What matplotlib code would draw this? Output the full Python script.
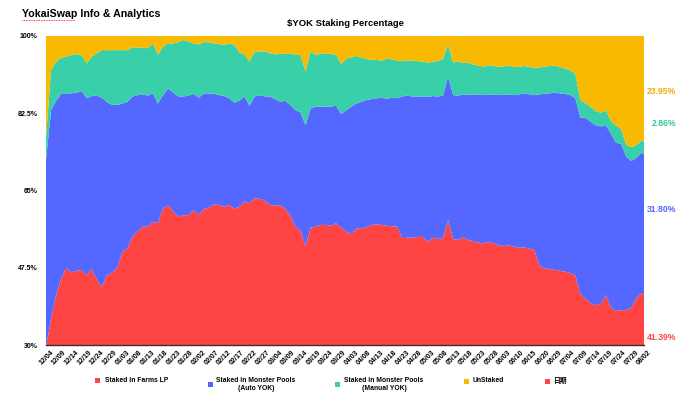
import matplotlib.pyplot as plt
from matplotlib.patches import Rectangle
from matplotlib.lines import Line2D
from matplotlib.transforms import ScaledTranslation

plt.rcParams['font.family'] = ['Liberation Sans', 'Noto Sans CJK SC', 'DejaVu Sans']

# x axis: one category per data row, label on every 5th row
tick_labels = ['12/04', '12/09', '12/14', '12/19', '12/24', '12/29', '01/03', '01/08',
               '01/13', '01/18', '01/23', '01/28', '02/02', '02/07', '02/12', '02/17',
               '02/22', '02/27', '03/04', '03/09', '03/14', '03/19', '03/24', '03/29',
               '04/03', '04/08', '04/13', '04/18', '04/23', '04/28', '05/03', '05/08',
               '05/13', '05/18', '05/23', '05/28', '06/03', '06/10', '06/15', '06/20',
               '06/29', '07/04', '07/09', '07/14', '07/19', '07/24', '07/29', '08/02']
n_rows = 236
day_idx = list(range(0, n_rows, 2)) + [n_rows - 1]

# % of supply (every second row)
farms = [29.5, 36.0, 41.3, 45.1, 47.5, 46.4, 46.8, 47.0, 45.8, 47.2,
         44.7, 43.2, 45.8, 46.4, 47.5, 51.1, 51.9, 54.5, 55.7, 56.8,
         56.8, 57.9, 57.6, 61.0, 61.6, 60.2, 59.1, 59.4, 59.4, 60.6,
         59.4, 60.8, 61.1, 61.9, 61.7, 61.3, 61.7, 60.9, 61.3, 62.5,
         62.1, 63.2, 63.1, 62.7, 61.7, 61.6, 61.7, 60.8, 59.4, 56.8,
         56.0, 52.3, 56.6, 56.8, 57.2, 57.2, 57.0, 57.6, 56.6, 55.7,
         55.1, 56.4, 56.3, 56.8, 57.2, 57.3, 57.2, 57.0, 56.9, 56.8,
         54.2, 54.3, 54.3, 54.5, 54.5, 53.4, 54.3, 54.0, 54.2, 58.3,
         54.0, 53.8, 54.4, 53.8, 53.5, 53.2, 53.0, 53.4, 53.0, 52.6,
         52.4, 52.6, 52.3, 52.0, 52.1, 51.8, 51.5, 47.8, 47.4, 47.2,
         47.0, 46.8, 46.6, 46.3, 45.8, 41.5, 40.5, 39.5, 39.0, 39.3,
         41.3, 38.5, 37.7, 37.9, 37.9, 38.4, 40.6, 41.7, 41.39]
auto_yok = [42.5, 47.2, 44.0, 41.9, 39.5, 40.6, 40.4, 40.5, 40.1, 39.2,
            41.8, 42.8, 39.2, 38.0, 36.9, 33.6, 33.2, 31.8, 30.9, 30.0,
            29.7, 29.1, 27.1, 25.6, 26.5, 27.0, 27.2, 26.9, 27.1, 26.3,
            26.6, 26.2, 25.9, 25.0, 24.9, 25.1, 24.2, 24.0, 24.0, 23.8,
            22.1, 23.1, 23.5, 23.6, 24.6, 24.1, 23.4, 24.5, 25.0, 26.4,
            26.7, 27.5, 27.0, 27.2, 26.8, 26.8, 27.0, 26.6, 25.7, 27.5,
            28.9, 28.3, 28.8, 28.7, 28.5, 28.6, 28.8, 28.8, 29.1, 29.1,
            32.1, 32.2, 32.0, 31.8, 31.8, 32.8, 32.1, 32.3, 32.3, 32.5,
            32.6, 32.7, 32.4, 32.8, 33.3, 33.5, 33.6, 33.4, 33.7, 34.0,
            34.4, 34.1, 34.3, 34.8, 34.8, 35.0, 35.1, 39.0, 39.5, 39.8,
            40.2, 40.2, 40.3, 40.3, 40.2, 40.0, 41.0, 41.1, 40.8, 40.2,
            38.5, 39.4, 38.1, 37.7, 34.8, 33.3, 31.8, 31.9, 31.80]
manual_yok = [5.0, 9.1, 8.9, 8.1, 8.3, 8.7, 8.7, 8.2, 7.9, 8.9,
              9.6, 10.8, 11.8, 12.4, 12.4, 12.1, 11.7, 11.1, 10.8, 10.6,
              10.7, 11.3, 11.1, 11.0, 10.2, 11.1, 12.3, 12.8, 12.2, 11.4,
              12.1, 11.6, 11.6, 11.4, 11.6, 11.6, 12.4, 13.1, 11.0, 9.5,
              10.0, 10.2, 9.9, 10.2, 9.8, 10.1, 11.0, 10.6, 11.7, 12.5,
              13.0, 12.1, 12.9, 11.7, 12.0, 12.1, 11.9, 11.6, 11.3, 11.7,
              11.1, 10.8, 10.0, 9.3, 8.9, 8.7, 8.4, 9.1, 8.7, 8.5,
              8.0, 8.0, 8.1, 8.0, 7.9, 7.7, 7.8, 8.0, 8.2, 7.3,
              7.4, 7.7, 7.1, 7.4, 6.7, 6.6, 6.4, 6.6, 6.5, 6.4,
              6.3, 6.6, 6.4, 6.2, 6.3, 6.2, 6.2, 6.1, 6.1, 6.2,
              6.1, 6.0, 5.7, 5.6, 5.5, 4.0, 3.3, 3.4, 3.2, 3.1,
              3.4, 2.9, 3.9, 3.4, 2.6, 3.1, 2.9, 2.7, 2.86]
unstaked = [23.0, 7.7, 5.8, 4.9, 4.7, 4.3, 4.1, 4.3, 6.2, 4.7,
            3.9, 3.2, 3.2, 3.2, 3.2, 3.2, 3.2, 2.6, 2.6, 2.6,
            2.8, 1.7, 4.2, 2.4, 1.7, 1.7, 1.4, 0.9, 1.3, 1.7,
            1.9, 1.4, 1.4, 1.7, 1.8, 2.0, 1.7, 2.0, 3.7, 4.2,
            5.8, 3.5, 3.5, 3.5, 3.9, 4.2, 3.9, 4.1, 3.9, 4.3,
            4.3, 8.1, 3.5, 4.3, 4.0, 3.9, 4.1, 4.2, 6.4, 5.1,
            4.9, 4.5, 4.9, 5.2, 5.4, 5.4, 5.6, 5.1, 5.3, 5.6,
            5.7, 5.5, 5.6, 5.7, 5.8, 6.1, 5.8, 5.7, 5.3, 1.9,
            6.0, 5.8, 6.1, 6.0, 6.5, 6.7, 7.0, 6.6, 6.8, 7.0,
            6.9, 6.7, 7.0, 7.0, 6.8, 7.0, 7.2, 7.1, 7.0, 6.8,
            6.7, 7.0, 7.4, 7.8, 8.5, 14.5, 15.2, 16.0, 17.0, 17.4,
            16.8, 19.2, 20.3, 21.0, 24.7, 25.2, 24.7, 23.7, 23.95]

series_names = ['Staked in Farms LP', 'Staked in Monster Pools\n(Auto YOK)',
                'Staked in Monster Pools\n(Manual YOK)', 'UnStaked', '日期']
colors = ['#FF4444', '#5468FF', '#38CFA9', '#F8B900', '#FF4444']
label_colors = ['#FF4444', '#5468FF', '#2EC79E', '#F3A900']

fig = plt.figure(figsize=(6.9, 3.99), dpi=100)
W, H = 690, 399
ax = fig.add_axes([46 / W, 1 - 345 / H, 598 / W, 309 / H])

ax.stackplot(day_idx, farms, auto_yok, manual_yok, unstaked,
             colors=colors[:4], linewidth=0)
ax.set_xlim(0, n_rows - 1)
ax.set_ylim(30, 100)

ax.set_yticks([30, 47.5, 65, 82.5, 100])
ax.set_yticklabels(['30%', '47.5%', '65%', '82.5%', '100%'], fontsize=5.0, fontweight='bold')
ax.tick_params(axis='y', length=0, pad=6)
ax.set_xticks(range(0, n_rows, 5))
ax.set_xticklabels(tick_labels, rotation=45, ha='right', rotation_mode='anchor',
                   fontsize=5, fontweight='bold')
ax.tick_params(axis='x', length=0, pad=3)
shift = ScaledTranslation(4 / 100, 0, fig.dpi_scale_trans)
for lab in ax.get_xticklabels():
    lab.set_transform(lab.get_transform() + shift)
for side in ['left', 'top', 'right']:
    ax.spines[side].set_visible(False)
ax.spines['bottom'].set_color('#333333')
ax.spines['bottom'].set_linewidth(1)

# titles
fig.text(22 / W, 1 - 14 / H, 'YokaiSwap Info & Analytics', fontsize=7.7,
         fontweight='bold', va='center', ha='left')
fig.add_artist(Line2D([22 / W, 75 / W], [1 - 19.5 / H] * 2, color='red', lw=0.6,
                      linestyle=(0, (1, 1))))
fig.text(345 / W, 1 - 24 / H, r'\$YOK Staking Percentage', fontsize=6.8,
         fontweight='bold', va='center', ha='center')

# end values on the right
last_vals = [farms[-1], auto_yok[-1], manual_yok[-1], unstaked[-1]]
label_y = [337, 210, 124, 91]
for v, yy, c in zip(last_vals, label_y, label_colors):
    fig.text(676 / W, 1 - yy / H, f'{v:.2f}%', color=c, fontsize=6.2,
             fontweight='bold', ha='right', va='center')

# legend
legend_pos = [(95, 380.5, 105, 'left'), (208, 384.5, 256, 'center'),
              (335, 384.5, 384, 'center'), (464, 381, 473, 'left'),
              (545, 381, 554, 'left')]
for (sx, sy, tx, ha), name, c in zip(legend_pos, series_names, colors):
    fig.add_artist(Rectangle((sx / W, 1 - (sy + 2.5) / H), 5 / W, 5 / H,
                             transform=fig.transFigure, color=c, lw=0))
    fig.text(tx / W, 1 - sy / H, name, fontsize=4.9, fontweight='bold',
             ha=ha, va='center', multialignment='center', linespacing=1.4)

fig.savefig('out.png', dpi=100)
